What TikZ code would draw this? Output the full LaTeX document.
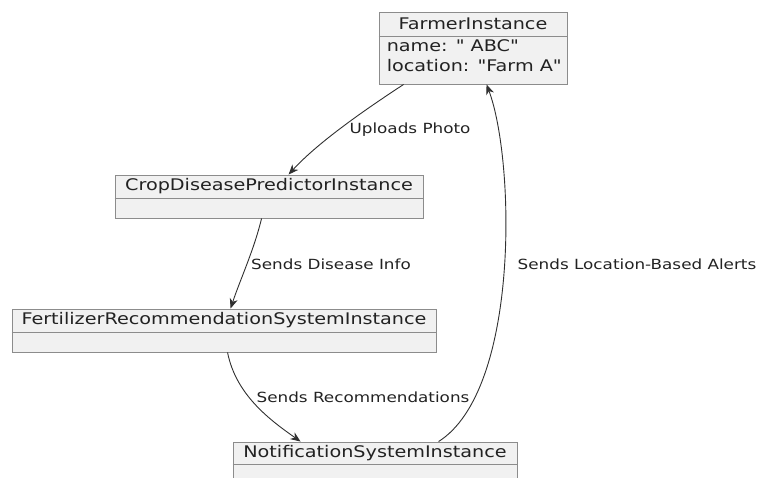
\documentclass[tikz,border=0pt]{standalone}
\usepackage{fontspec}
\setmainfont{DejaVu Sans}
\newfontfamily\objfont{DejaVu Sans}[FakeStretch=1.2]
\usetikzlibrary{arrows.meta,calc}
\definecolor{boxfill}{HTML}{F1F1F1}
\definecolor{boxline}{HTML}{8C8C8C}
\definecolor{inktext}{HTML}{222222}
\definecolor{linkline}{HTML}{303030}
\begin{document}
\begin{tikzpicture}[x=1pt,y=-1pt,
  objbox/.style={draw=boxline, fill=boxfill, line width=0.9pt, inner sep=0pt},
  titletext/.style={text=inktext, font=\objfont\fontsize{16}{19}\selectfont, inner sep=0pt},
  bodytext/.style={text=inktext, font=\objfont\fontsize{16}{19.5}\selectfont, inner sep=0pt, align=left, anchor=north west},
  linktext/.style={text=inktext, font=\objfont\fontsize{14}{16}\selectfont, inner sep=0pt},
  link/.style={draw=linkline, line width=0.9pt, -{Stealth[length=10pt,width=8pt,inset=3pt]}}]
\useasboundingbox (0,0) rectangle (757,477);
\begin{scope}
\clip (0,0) rectangle (757,477);

% object boxes
\node[objbox, minimum width=188pt, minimum height=72pt] (farmer) at (473,48) {};
\node[objbox, minimum width=308pt, minimum height=43pt] (crop) at (269,196.5) {};
\node[objbox, minimum width=424pt, minimum height=43pt] (fert) at (224,330.5) {};
\node[objbox, minimum width=284pt, minimum height=44pt] (notif) at (375,464) {};

% title rows and dividers
\node[titletext] (farmerT) at ($(farmer.north)+(0,12.5)$) {FarmerInstance};
\draw[boxline, line width=0.9pt] ($(farmer.north west)+(0,25)$) -- ($(farmer.north east)+(0,25)$);
\node[bodytext] (farmerB) at ($(farmer.north west)+(8,28)$) {name: " ABC"\\location: "Farm A"};

\node[titletext] (cropT) at ($(crop.north)+(0,12)$) {CropDiseasePredictorInstance};
\draw[boxline, line width=0.9pt] ($(crop.north west)+(0,24)$) -- ($(crop.north east)+(0,24)$);

\node[titletext] (fertT) at ($(fert.north)+(0,12)$) {FertilizerRecommendationSystemInstance};
\draw[boxline, line width=0.9pt] ($(fert.north west)+(0,24)$) -- ($(fert.north east)+(0,24)$);

\node[titletext] (notifT) at ($(notif.north)+(0,12)$) {NotificationSystemInstance};
\draw[boxline, line width=0.9pt] ($(notif.north west)+(0,23)$) -- ($(notif.north east)+(0,23)$);

% connectors
\draw[link] ($(farmer.south west)+(25,0)$) .. controls (380,100) and (322,138) .. ($(crop.north west)+(174,0)$);
\draw[link] ($(crop.south west)+(147,0)$) .. controls (254,250) and (240,280) .. ($(fert.north west)+(219,0)$);
\draw[link] ($(fert.south west)+(216,0)$) .. controls (236,395) and (270,420) .. ($(notif.north west)+(68,0)$);
\draw[link] ($(notif.north west)+(206,0)$) .. controls (520,390) and (515,160) .. ($(farmer.south west)+(108,0)$);

% connector labels
\node[linktext] (l1) at (410,130) {Uploads Photo};
\node[linktext] (l2) at (331,264) {Sends Disease Info};
\node[linktext] (l3) at (363,397) {Sends Recommendations};
\node[linktext] (l4) at (637,264) {Sends Location-Based Alerts};
\end{scope}
\end{tikzpicture}
\end{document}
